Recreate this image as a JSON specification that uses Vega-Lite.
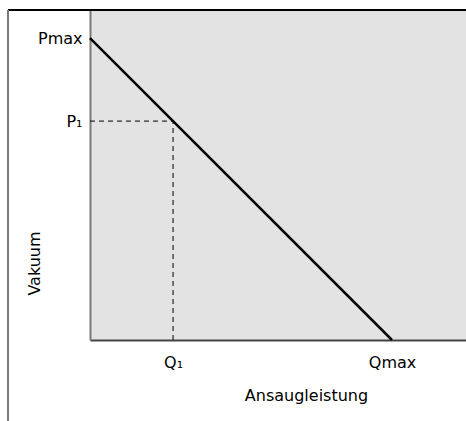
{
  "$schema": "https://vega.github.io/schema/vega-lite/v6.json",
  "autosize": "none",
  "width": 376,
  "height": 330,
  "padding": {"left": 90, "top": 10, "right": 0, "bottom": 81},
  "background": "white",
  "config": {
    "view": {"fill": "#e3e3e3", "stroke": null},
    "font": "DejaVu Sans"
  },
  "datasets": {
    "kennlinie": [{"Q": 0, "P": 100}, {"Q": 100, "P": 0}],
    "betriebspunkt": [{"Q0": 0, "Q1": 27.5, "P0": 0, "P1": 72.5}]
  },
  "layer": [
    {
      "data": {"name": "kennlinie"},
      "mark": {"type": "line", "color": "#000000", "strokeWidth": 2.5},
      "encoding": {
        "x": {
          "field": "Q", "type": "quantitative", "title": "Ansaugleistung",
          "scale": {"domain": [0, 124.5], "nice": false, "zero": false},
          "axis": {
            "values": [27.5, 100],
            "labelExpr": "datum.value == 100 ? 'Qmax' : 'Q₁'",
            "ticks": false, "grid": false,
            "domainColor": "#444444", "domainWidth": 2,
            "labelFont": "DejaVu Sans", "labelFontSize": 16, "labelColor": "#000000",
            "labelPadding": 14,
            "titleFont": "DejaVu Sans", "titleFontSize": 16, "titleFontWeight": "normal", "titleColor": "#000000",
            "titleX": 216, "titleY": 60, "titleBaseline": "alphabetic", "titleAlign": "center"
          }
        },
        "y": {
          "field": "P", "type": "quantitative", "title": "Vakuum",
          "scale": {"domain": [0, 109.3], "nice": false, "zero": false},
          "axis": {
            "values": [72.5, 100],
            "labelExpr": "datum.value == 100 ? 'Pmax' : 'P₁'",
            "ticks": false, "grid": false,
            "domainColor": "#7a7a7a", "domainWidth": 2,
            "labelFont": "DejaVu Sans", "labelFontSize": 16, "labelColor": "#000000",
            "labelPadding": 8,
            "titleFont": "DejaVu Sans", "titleFontSize": 16, "titleFontWeight": "normal", "titleColor": "#000000",
            "titleX": -51, "titleY": 253, "titleBaseline": "alphabetic", "titleAlign": "center", "titleAngle": -90
          }
        }
      }
    },
    {
      "data": {"name": "betriebspunkt"},
      "mark": {"type": "rule", "color": "#000000", "strokeWidth": 1, "strokeDash": [5, 4]},
      "encoding": {
        "x": {"field": "Q0", "type": "quantitative", "title": "Ansaugleistung"},
        "x2": {"field": "Q1"},
        "y": {"field": "P1", "type": "quantitative", "title": "Vakuum"}
      }
    },
    {
      "data": {"name": "betriebspunkt"},
      "mark": {"type": "rule", "color": "#000000", "strokeWidth": 1, "strokeDash": [5, 4]},
      "encoding": {
        "x": {"field": "Q1", "type": "quantitative", "title": "Ansaugleistung"},
        "y": {"field": "P0", "type": "quantitative", "title": "Vakuum"},
        "y2": {"field": "P1"}
      }
    },
    {
      "data": {"values": [{"rahmen": 1}]},
      "mark": {"type": "rule", "color": "#000000", "strokeWidth": 2},
      "encoding": {
        "x": {"datum": -27.15, "type": "quantitative"},
        "x2": {"datum": 126},
        "y": {"datum": 109.3, "type": "quantitative"}
      }
    },
    {
      "data": {"values": [{"rahmen": 1}]},
      "mark": {"type": "rule", "color": "#7a7a7a", "strokeWidth": 2},
      "encoding": {
        "x": {"datum": -27.15, "type": "quantitative"},
        "y": {"datum": 109.3, "type": "quantitative"},
        "y2": {"datum": -30}
      }
    }
  ]
}
